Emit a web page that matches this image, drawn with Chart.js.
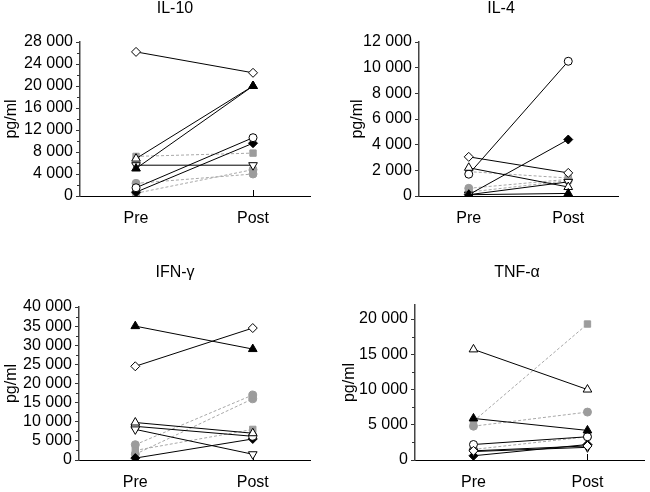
<!DOCTYPE html>
<html>
<head>
<meta charset="utf-8">
<script src="https://cdn.jsdelivr.net/npm/chart.js@4"></script>
<style>
  html, body { margin: 0; padding: 0; background: #fff; overflow: hidden; }
  #wrap { position: relative; width: 650px; height: 492px; }
  canvas { position: absolute; }
</style>
</head>
<body>
<div id="wrap">
  <canvas id="il10" width="325" height="246" style="left:0;top:0"></canvas>
  <canvas id="il4" width="325" height="246" style="left:325px;top:0"></canvas>
  <canvas id="ifn" width="325" height="246" style="left:0;top:246px"></canvas>
  <canvas id="tnf" width="325" height="246" style="left:325px;top:246px"></canvas>
</div>
<script>
// time points on the x axis
const timeLabels = ['Pre', 'Post'];

// one value per subject, same subject order in every panel
const il10Pre  = [26200, 5000, 6800, 5600, 1500, 700, 7200, 2300, 500];
const il10Post = [22400, 20000, 20000, 5600, 10600, 9600, 7800, 4000, 4800];
const il4Pre   = [3050, 100, 2200, 100, 1700, 100, 1900, 600, 300];
const il4Post  = [1800, 200, 700, 1100, 10500, 4400, 1400, 1300, 1200];
const ifnPre   = [24500, 35000, 9800, 8000, 8800, 500, 2500, 4000, 1500];
const ifnPost  = [34500, 29000, 7000, 1500, 6200, 5500, 8000, 17000, 16000];
const tnfPre   = [1300, 5900, 15700, 1200, 2200, 600, 5500, 4800, 1500];
const tnfPost  = [2000, 4200, 10000, 1800, 3300, 2200, 19300, 6800, 3300];

// y tick values
const il10Ticks = [0, 4000, 8000, 12000, 16000, 20000, 24000, 28000];
const il10Minor = [2000, 6000, 10000, 14000, 18000, 22000, 26000];
const il4Ticks  = [0, 2000, 4000, 6000, 8000, 10000, 12000];
const ifnTicks  = [0, 5000, 10000, 15000, 20000, 25000, 30000, 35000, 40000];
const ifnMinor  = [2500, 7500, 12500, 17500, 22500, 27500, 32500, 37500];
const tnfTicks  = [0, 5000, 10000, 15000, 20000];
const tnfMinor  = [2500, 7500, 12500, 17500];

// marker look per subject
const GRAY = '#9c9c9c';
const subjStyle = [
  { shape: 'rectRot',  fill: '#fff', r: 4.5, rot: 0 },
  { shape: 'triangle', fill: '#000', r: 5,   rot: 0 },
  { shape: 'triangle', fill: '#fff', r: 5,   rot: 0 },
  { shape: 'triangle', fill: '#fff', r: 5,   rot: 180 },
  { shape: 'circle',   fill: '#fff', r: 4,   rot: 0 },
  { shape: 'rectRot',  fill: '#000', r: 4.5, rot: 0 },
  { shape: 'rect',     fill: GRAY,   r: 4.5, rot: 0, gray: true },
  { shape: 'circle',   fill: GRAY,   r: 4,   rot: 0, gray: true },
  { shape: 'circle',   fill: GRAY,   r: 4,   rot: 0, gray: true }
];

const FONT = '"Liberation Sans", Arial, sans-serif';
const FSIZE = 16;

function fmt(v) {
  return String(v).replace(/\B(?=(\d{3})+(?!\d))/g, ' ');
}

// panel title, minor y ticks and inward x ticks
const panelDecor = {
  id: 'panelDecor',
  beforeDatasetsDraw(chart, args, opts) {
    const ctx = chart.ctx, xs = chart.scales.x, ys = chart.scales.y;
    ctx.save();
    ctx.lineWidth = 1;
    ctx.strokeStyle = '#333';
    (opts.minor || []).forEach(v => {
      const py = Math.round(ys.getPixelForValue(v)) + 0.5;
      ctx.beginPath(); ctx.moveTo(xs.left - 3, py); ctx.lineTo(xs.left, py); ctx.stroke();
    });
    ctx.strokeStyle = '#000';
    [0, 1].forEach(v => {
      const px = Math.round(xs.getPixelForValue(v)) + 0.5;
      ctx.beginPath(); ctx.moveTo(px, ys.bottom); ctx.lineTo(px, ys.bottom - 6); ctx.stroke();
    });
    ctx.restore();
  },
  afterDraw(chart, args, opts) {
    const ctx = chart.ctx;
    ctx.save();
    ctx.fillStyle = '#000';
    ctx.font = FSIZE + 'px ' + FONT;
    ctx.textAlign = 'center';
    ctx.textBaseline = 'middle';
    ctx.fillText(opts.title, opts.titleX, opts.titleY);
    ctx.restore();
  }
};

function makePanel(id, o) {
  const datasets = o.pre.map((p, i) => {
    const s = subjStyle[i];
    return {
      label: 'S' + (i + 1),
      data: [{ x: 0, y: p }, { x: 1, y: o.post[i] }],
      borderColor: s.gray ? '#a8a8a8' : '#000',
      borderWidth: 1,
      borderDash: s.gray ? [3, 2] : [],
      pointStyle: s.shape,
      pointRadius: s.r,
      pointRotation: s.rot,
      pointBackgroundColor: s.fill,
      pointBorderColor: s.gray ? GRAY : '#000',
      pointBorderWidth: 1,
      order: s.gray ? 1 : 0,
      tension: 0
    };
  });

  new Chart(document.getElementById(id), {
    type: 'line',
    data: { datasets },
    plugins: [panelDecor],
    options: {
      responsive: false,
      animation: false,
      layout: { padding: { left: 0, top: o.padTop, right: o.padRight, bottom: 0 } },
      plugins: {
        legend: { display: false },
        tooltip: { enabled: false },
        panelDecor: { title: o.title, titleX: o.titleX, titleY: o.titleY, minor: o.minor }
      },
      scales: {
        x: {
          type: 'linear',
          min: o.xMin,
          max: o.xMax,
          afterBuildTicks: sc => { sc.ticks = [{ value: 0 }, { value: 1 }]; },
          afterFit: sc => { sc.height = o.xH; },
          grid: { display: true, drawOnChartArea: false, drawTicks: false },
          border: { color: '#000', width: 1 },
          ticks: {
            padding: 13,
            autoSkip: false,
            maxRotation: 0,
            color: '#000',
            font: { family: FONT, size: FSIZE },
            callback: v => timeLabels[v]
          }
        },
        y: {
          min: 0,
          max: o.yMax,
          afterBuildTicks: sc => { sc.ticks = o.ticks.map(v => ({ value: v })); },
          afterFit: sc => { sc.width = o.yW; },
          grid: { drawOnChartArea: false, drawTicks: true, tickLength: 4, tickColor: '#333' },
          border: { color: '#444', width: 1.5 },
          ticks: {
            padding: 3,
            autoSkip: false,
            color: '#000',
            font: { family: FONT, size: FSIZE },
            callback: v => fmt(v)
          },
          title: {
            display: true,
            text: 'pg/ml',
            color: '#000',
            font: { family: FONT, size: FSIZE },
            padding: { top: o.titlePad, bottom: 0 }
          }
        }
      }
    }
  });
}

makePanel('il10', {
  title: 'IL-10', titleX: 175, titleY: 9,
  pre: il10Pre, post: il10Post, ticks: il10Ticks, minor: il10Minor,
  yMax: 28000, yW: 80, padTop: 42, padRight: 15, xH: 50,
  xMin: -0.479, xMax: 1.487, titlePad: 2
});
makePanel('il4', {
  title: 'IL-4', titleX: 176, titleY: 9,
  pre: il4Pre, post: il4Post, ticks: il4Ticks, minor: [],
  yMax: 12000, yW: 94, padTop: 42, padRight: 32, xH: 50,
  xMin: -0.5, xMax: 1.5, titlePad: 23
});
makePanel('ifn', {
  title: 'IFN-γ', titleX: 175, titleY: 27,
  pre: ifnPre, post: ifnPost, ticks: ifnTicks, minor: ifnMinor,
  yMax: 40000, yW: 79, padTop: 61, padRight: 15, xH: 32,
  xMin: -0.479, xMax: 1.487, titlePad: 2
});
makePanel('tnf', {
  title: 'TNF-α', titleX: 192, titleY: 27,
  pre: tnfPre, post: tnfPost, ticks: tnfTicks, minor: tnfMinor,
  yMax: 22000, yW: 90, padTop: 59, padRight: 0, xH: 32,
  xMin: -0.513, xMax: 1.496, titlePad: 15
});
</script>
</body>
</html>
